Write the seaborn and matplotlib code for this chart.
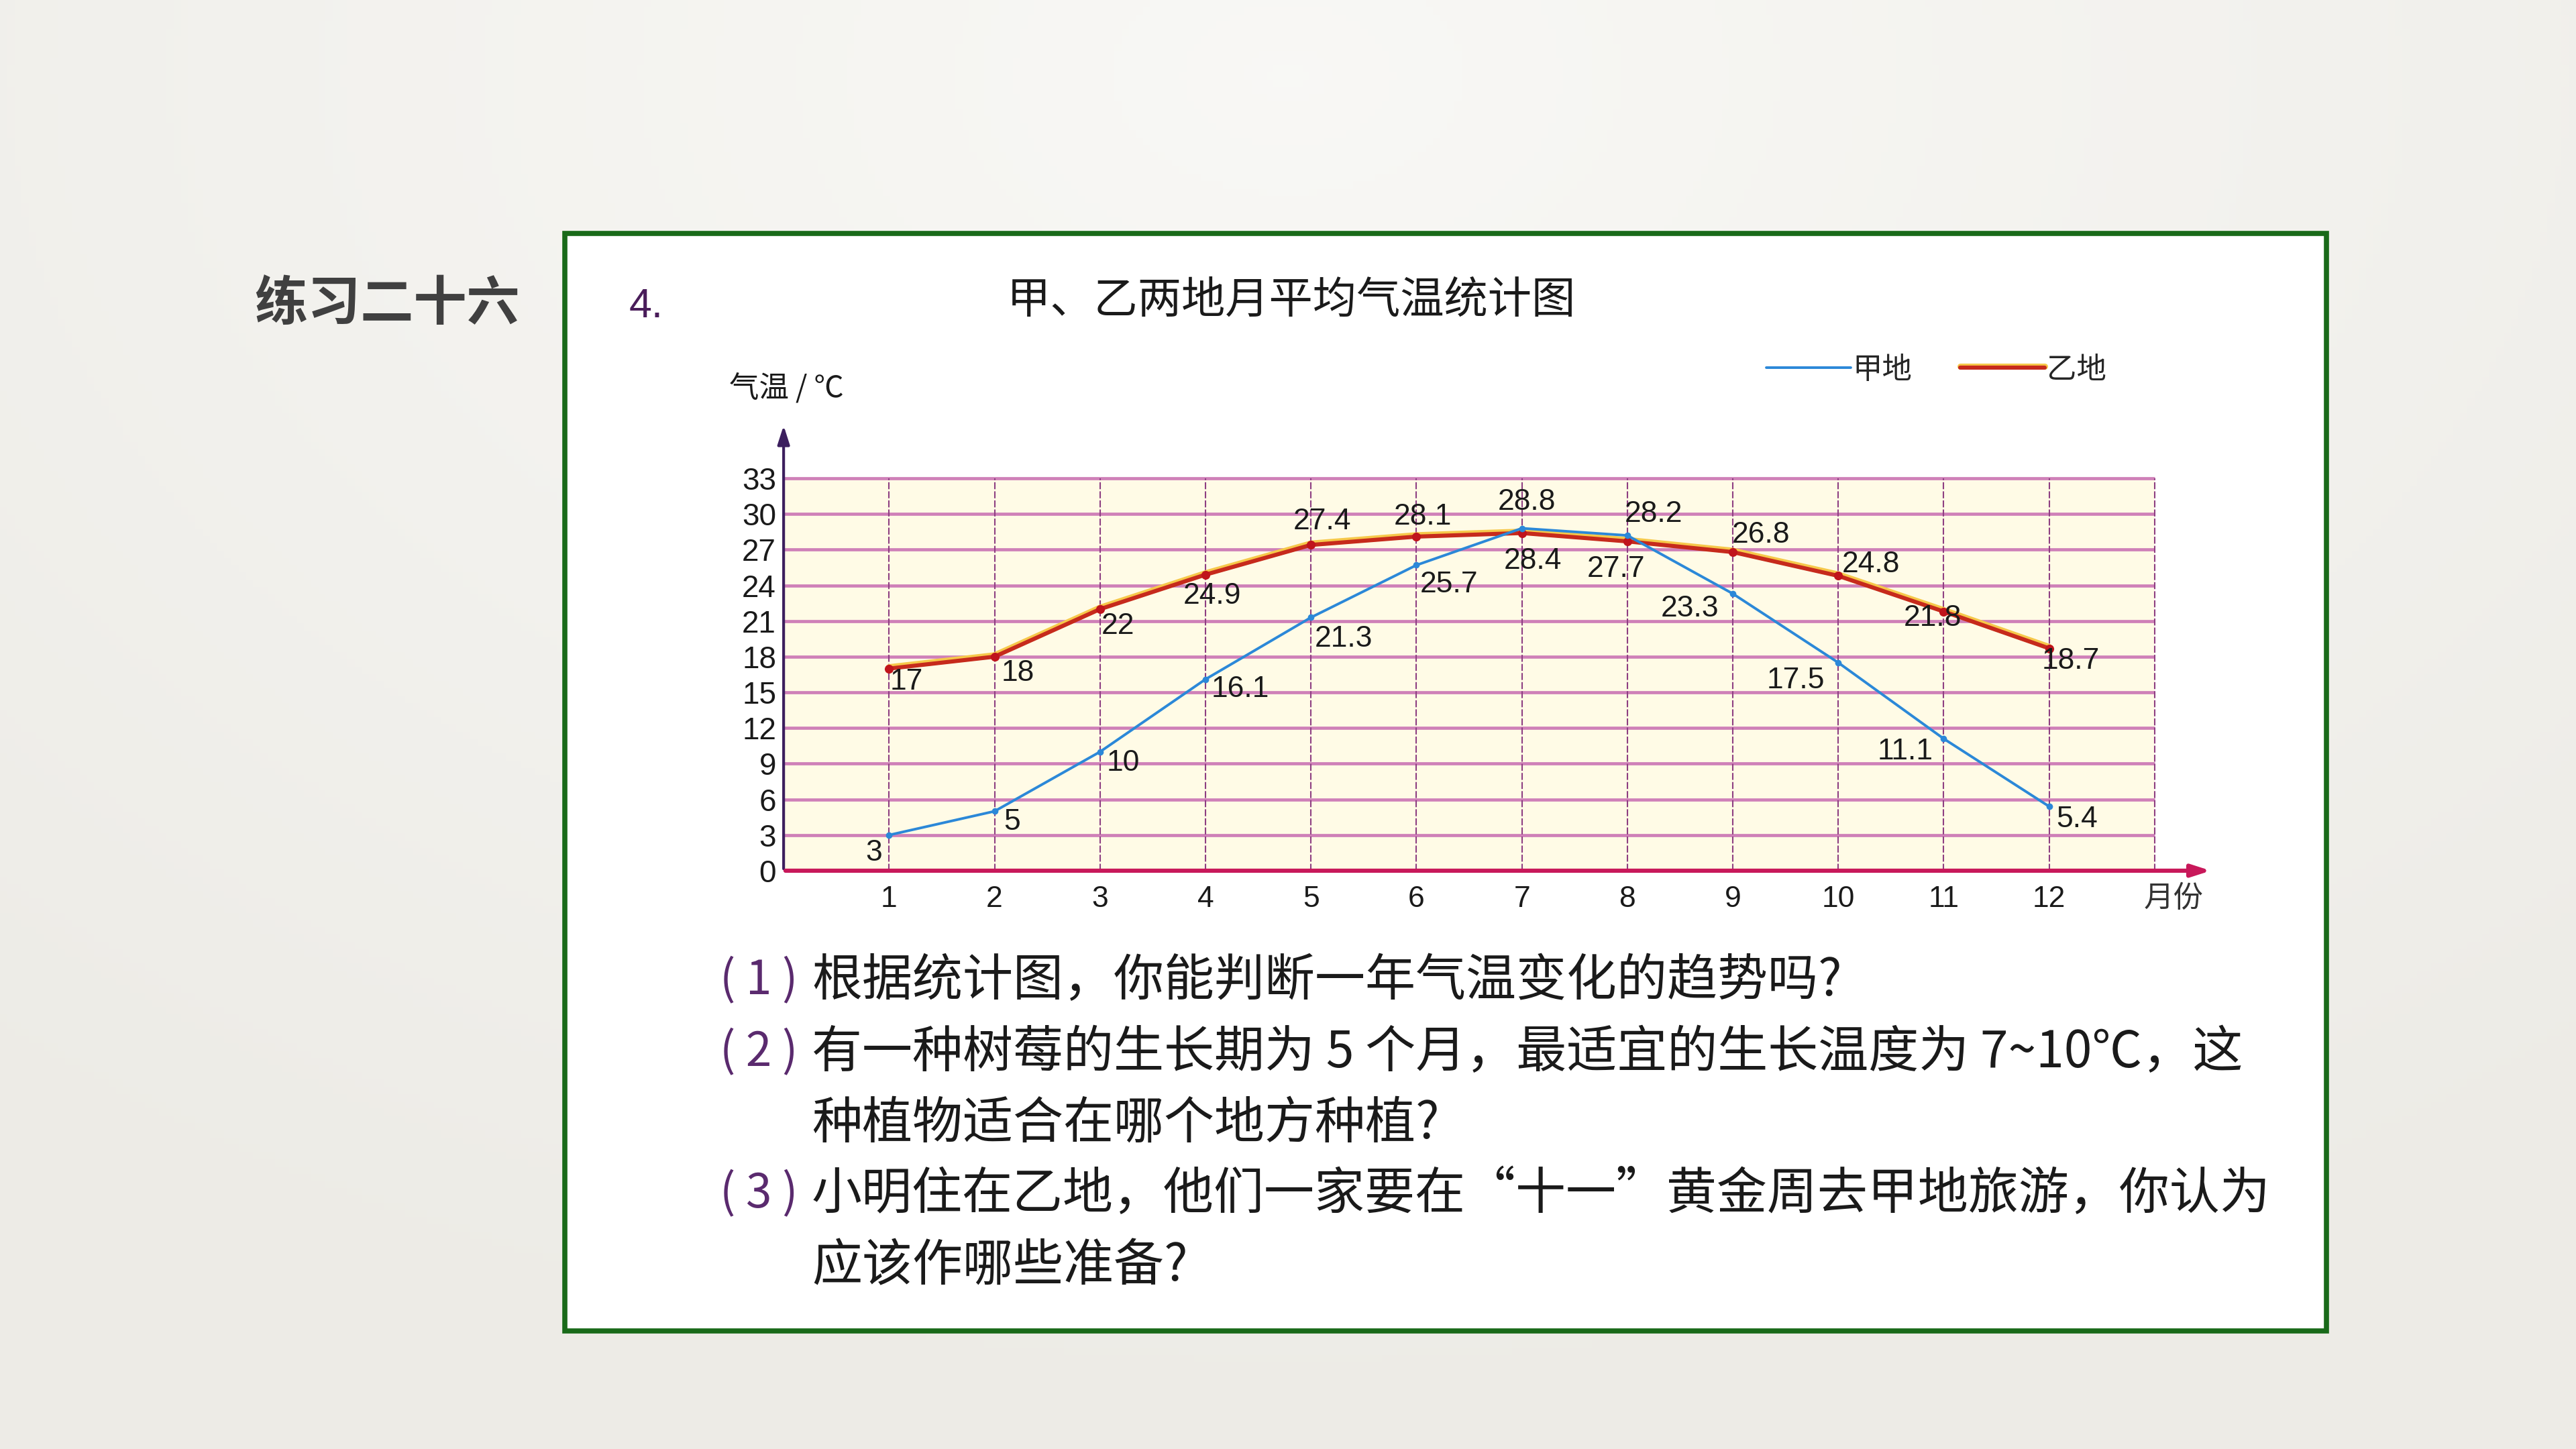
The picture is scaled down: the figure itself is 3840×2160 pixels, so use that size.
import numpy as np
import matplotlib.pyplot as plt
import matplotlib.patheffects as pe
from matplotlib.lines import Line2D
from matplotlib.patches import Rectangle
import seaborn as sns

# chart data
months = list(range(1, 13))
temp_jia = [3, 5, 10, 16.1, 21.3, 25.7, 28.8, 28.2, 23.3, 17.5, 11.1, 5.4]
temp_yi = [17, 18, 22, 24.9, 27.4, 28.1, 28.4, 27.7, 26.8, 24.8, 21.8, 18.7]
series_names = ["甲地", "乙地"]
y_ticks = list(range(0, 34, 3))

slide_title = "练习二十六"
question_no = "4."
chart_title = "甲、乙两地月平均气温统计图"
y_label = "气温 / ℃"
x_label = "月份"
question_marks = ["( 1 )", "( 2 )", "", "( 3 )", ""]
question_lines = [
    "根据统计图，你能判断一年气温变化的趋势吗?",
    "有一种树莓的生长期为 5 个月，最适宜的生长温度为 7~10℃，这",
    "种植物适合在哪个地方种植?",
    "小明住在乙地，他们一家要在“十一”黄金周去甲地旅游，你认为",
    "应该作哪些准备?",
]

# label offsets in points (style only)
off_jia = [(-16, -19), (19, -12), (25, -12), (37, -11), (35, -23), (35, -21),
           (5, 28), (28, 23), (-46, -16), (-46, -19), (-41, -14), (30, -14)]
off_yi = [(19, -14), (25, -18), (19, -18), (7, -23), (12, 25), (7, 21),
          (12, -30), (-12, -30), (30, 18), (35, 12), (-12, -7), (23, -14)]

BLUE = "#2b88d8"
RED = "#c62a1c"
YELLOW = "#f6c84a"
PURPLE = "#3c1f5e"
NUM_FONT = "Liberation Sans"


def main():
    sns.set_theme(style="white")
    plt.rcParams["font.family"] = ["Noto Sans CJK SC", "DejaVu Sans"]

    fig = plt.figure(figsize=(38.4, 21.6), dpi=100)

    # slide background with a soft light centre
    bg = fig.add_axes([0, 0, 1, 1], zorder=-10)
    yy, xx = np.mgrid[0:1:200j, 0:1:356j]
    r = np.sqrt(((xx - 0.5) * 1.2) ** 2 + ((yy - 0.05) * 1.0) ** 2)
    light = np.array([0.975, 0.973, 0.962])
    dark = np.array([0.93, 0.925, 0.905])
    t = np.clip(r / 0.9, 0, 1)[..., None]
    bg.imshow(light * (1 - t) + dark * t, aspect="auto", extent=[0, 1, 0, 1])
    bg.set_axis_off()

    # green frame
    fig.patches.append(Rectangle((0.2194, 0.0816), 0.6837, 0.7574, transform=fig.transFigure,
                                 facecolor="white", edgecolor="#196a19", linewidth=5.5, zorder=-5))

    fig.text(0.0989, 0.7902, slide_title, fontsize=57, fontweight="bold", color="#404040",
             ha="left", va="center")
    fig.text(0.2443, 0.788, question_no, fontsize=44, color="#4a1d5a", family=NUM_FONT,
             ha="left", va="center")
    fig.text(0.5013, 0.7925, chart_title, fontsize=47, color="#1a1a1a", ha="center", va="center")

    # chart axes
    ax = fig.add_axes([0.3042, 0.3991, 0.5568, 0.3118])
    ax.set_facecolor("none")
    ax.set_xlim(0, 13.6)
    ax.set_ylim(0, 38)
    for s in ax.spines.values():
        s.set_visible(False)

    ax.add_patch(Rectangle((0, 0), 13, 33, facecolor="#fffbe6", edgecolor="none", zorder=0))
    ax.hlines(y_ticks[1:], 0, 13, color="#cf80b8", linewidth=3.4, zorder=1)
    ax.vlines(months + [13], 0, 33, color="#8e3f82", linewidth=1.5,
              linestyle=(0, (5, 1.5)), zorder=1)

    # axes with arrows
    ax.annotate("", xy=(0, 37.6), xytext=(0, 0),
                arrowprops=dict(arrowstyle="-|>,head_length=1.4,head_width=0.45",
                                color=PURPLE, lw=3), annotation_clip=False, zorder=3)
    ax.annotate("", xy=(13.55, 0), xytext=(0, 0),
                arrowprops=dict(arrowstyle="-|>,head_length=1.4,head_width=0.45",
                                color="#c8185a", lw=4.5), annotation_clip=False, zorder=3)

    glow = [pe.Stroke(linewidth=6.5, foreground=YELLOW, offset=(0, 1.5)), pe.Normal()]
    sns.lineplot(x=months, y=temp_jia, ax=ax, color=BLUE, linewidth=2.8,
                 marker="o", markersize=7, markeredgewidth=0, zorder=5)
    sns.lineplot(x=months, y=temp_yi, ax=ax, color=RED, linewidth=4.4, zorder=4,
                 path_effects=glow)
    sns.scatterplot(x=months, y=temp_yi, ax=ax, color="#c0141c", s=90, linewidth=0, zorder=4.5)

    for m, v, o in zip(months, temp_jia, off_jia):
        ax.annotate(f"{v:g}", (m, v), xytext=o, textcoords="offset points", ha="center",
                    va="center", fontsize=32, family=NUM_FONT, color="#1a1a1a", zorder=6)
    for m, v, o in zip(months, temp_yi, off_yi):
        ax.annotate(f"{v:g}", (m, v), xytext=o, textcoords="offset points", ha="center",
                    va="center", fontsize=32, family=NUM_FONT, color="#1a1a1a", zorder=6)

    ax.set_xticks(months)
    ax.set_xticklabels([str(m) for m in months], family=NUM_FONT, fontsize=32, color="#1a1a1a")
    ax.set_yticks(y_ticks)
    ax.set_yticklabels([str(v) for v in y_ticks], family=NUM_FONT, fontsize=33, color="#1a1a1a")
    ax.tick_params(axis="x", length=0, pad=16)
    ax.tick_params(axis="y", length=0, pad=8)
    ax.set_xlabel("")
    ax.set_ylabel("")
    ax.grid(False)

    ax.text(13.18, -2.3, x_label, fontsize=32, color="#333333", ha="center", va="center",
            clip_on=False)
    ax.text(0.03, 40.6, y_label, fontsize=32, color="#1a1a1a", ha="center", va="center",
            clip_on=False)

    handles = [Line2D([], [], color=BLUE, linewidth=2.8),
               Line2D([], [], color=RED, linewidth=4.4, path_effects=glow)]
    fig.legend(handles, series_names, loc="center left", bbox_to_anchor=(0.6856, 0.7449),
               ncol=2, frameon=False, fontsize=32, handlelength=2.85, handletextpad=0.05,
               columnspacing=1.6, borderpad=0, borderaxespad=0)

    # questions below the chart
    line_y = [0.3231, 0.2732, 0.2245, 0.1757, 0.1259]
    for mark, text, y in zip(question_marks, question_lines, line_y):
        if mark:
            fig.text(0.2793, y, mark, fontsize=50, color="#5a2a6e", ha="left", va="center")
        fig.text(0.3151, y, text, fontsize=54, color="#1a1a1a", ha="left", va="center")

    fig.savefig("out.png", dpi=100)


if __name__ == "__main__":
    main()
